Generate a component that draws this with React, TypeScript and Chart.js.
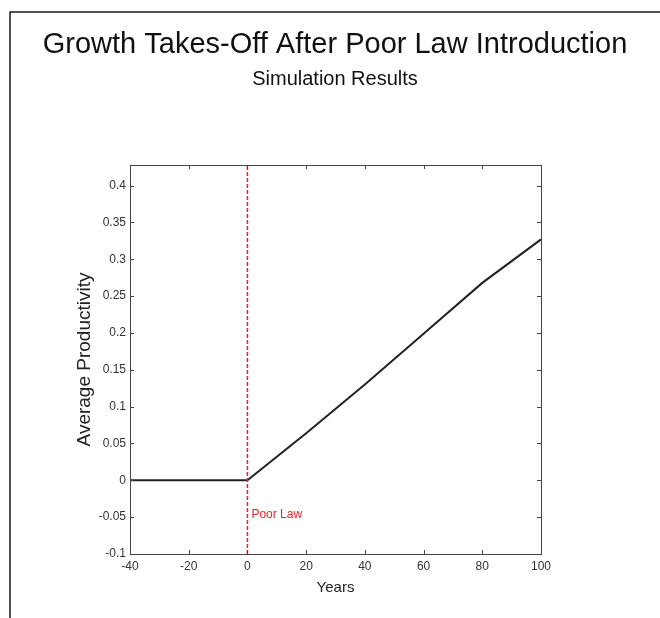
import React, { useEffect, useRef } from "react";
import { Chart, registerables } from "chart.js";

Chart.register(...registerables);

const titleText = "Growth Takes-Off After Poor Law Introduction";
const subtitleText = "Simulation Results";
const xAxisTitle = "Years";
const yAxisTitle = "Average Productivity";

const years = [-40, -20, 0, 20, 40, 60, 80, 100];
const productivity = [0, 0, 0, 0.064, 0.13, 0.199, 0.268, 0.327];

const poorLawYear = 0;
const poorLawLabel = "Poor Law";
const poorLawLabelY = -0.047;

const xTickValues = [-40, -20, 0, 20, 40, 60, 80, 100];
const yTickValues = [-0.1, -0.05, 0, 0.05, 0.1, 0.15, 0.2, 0.25, 0.3, 0.35, 0.4];

const xMin = -40;
const xMax = 100;
const yMin = -0.1;
const yMax = 0.428;

const FONT = "'Liberation Sans', Arial, sans-serif";

const fmt = (v: number) => String(Number(Number(v).toFixed(3)));

const framePlugin = {
  id: "frame",
  afterDraw(chart: any) {
    const ctx = chart.ctx;
    ctx.save();
    ctx.strokeStyle = "#1a1a1a";
    ctx.lineWidth = 1.5;
    ctx.beginPath();
    ctx.moveTo(10, chart.height);
    ctx.lineTo(10, 12);
    ctx.lineTo(chart.width, 12);
    ctx.stroke();
    ctx.restore();
  },
};

const boxPlugin = {
  id: "axesBox",
  afterDatasetsDraw(chart: any) {
    const { ctx, chartArea } = chart;
    const xs = chart.scales.x;
    const ys = chart.scales.y;
    const { left, right, top, bottom } = chartArea;
    ctx.save();
    ctx.setLineDash([]);
    ctx.strokeStyle = "#444";
    ctx.lineWidth = 1;
    ctx.strokeRect(left + 0.5, top + 0.5, right - left, bottom - top);
    const tl = 4;
    ctx.beginPath();
    xTickValues.forEach((v) => {
      const px = Math.round(xs.getPixelForValue(v)) + 0.5;
      ctx.moveTo(px, bottom);
      ctx.lineTo(px, bottom - tl);
      ctx.moveTo(px, top);
      ctx.lineTo(px, top + tl);
    });
    yTickValues.forEach((v) => {
      const py = Math.round(ys.getPixelForValue(v)) + 0.5;
      ctx.moveTo(left, py);
      ctx.lineTo(left + tl, py);
      ctx.moveTo(right, py);
      ctx.lineTo(right - tl, py);
    });
    ctx.stroke();
    ctx.fillStyle = "#e3262f";
    ctx.font = `12px ${FONT}`;
    ctx.textAlign = "left";
    ctx.textBaseline = "middle";
    ctx.fillText(
      poorLawLabel,
      xs.getPixelForValue(poorLawYear) + 4,
      ys.getPixelForValue(poorLawLabelY)
    );
    ctx.restore();
  },
};

export default function App() {
  const canvasRef = useRef<HTMLCanvasElement | null>(null);

  useEffect(() => {
    document.body.style.margin = "0";
    const canvas = canvasRef.current;
    if (!canvas) return;
    const chart = new Chart(canvas, {
      type: "line",
      data: {
        datasets: [
          {
            label: "Average Productivity",
            data: years.map((x, i) => ({ x, y: productivity[i] })),
            borderColor: "#222",
            backgroundColor: "#222",
            borderWidth: 2,
            pointRadius: 0,
            fill: false,
            tension: 0,
            order: 1,
          },
          {
            label: "Poor Law",
            data: [
              { x: poorLawYear, y: yMin },
              { x: poorLawYear, y: yMax },
            ],
            borderColor: "rgb(240, 30, 40)",
            backgroundColor: "rgb(240, 30, 40)",
            borderWidth: 1.5,
            borderDash: [4, 2],
            pointRadius: 0,
            fill: false,
            order: 0,
          },
        ],
      },
      options: {
        responsive: false,
        animation: false,
        devicePixelRatio: 1,
        layout: { padding: { left: 10, right: 0, top: 0, bottom: 0 } },
        plugins: {
          legend: { display: false },
          tooltip: { enabled: false },
          title: {
            display: true,
            text: titleText,
            color: "#111",
            font: { family: FONT, size: 29, weight: "normal" },
            padding: { top: 28, bottom: 0 },
          },
          subtitle: {
            display: true,
            text: subtitleText,
            color: "#111",
            font: { family: FONT, size: 20, weight: "normal" },
            padding: { top: 5, bottom: 73.2 },
          },
        },
        scales: {
          x: {
            type: "linear",
            min: xMin,
            max: xMax,
            grid: { display: false, drawTicks: false },
            border: { display: false },
            afterBuildTicks: (s: any) => {
              s.ticks = xTickValues.map((v) => ({ value: v }));
            },
            afterFit: (s: any) => {
              s.height = 64;
            },
            ticks: {
              color: "#333",
              font: { family: FONT, size: 12 },
              padding: 5,
              maxRotation: 0,
              autoSkip: false,
              callback: (v: any) => fmt(v),
            },
            title: {
              display: true,
              text: xAxisTitle,
              color: "#222",
              font: { family: FONT, size: 15 },
              padding: { top: 0, bottom: 21 },
            },
          },
          y: {
            type: "linear",
            position: "left",
            min: yMin,
            max: yMax,
            grid: { display: false, drawTicks: false },
            border: { display: false },
            afterBuildTicks: (s: any) => {
              s.ticks = yTickValues.map((v) => ({ value: v }));
            },
            afterFit: (s: any) => {
              s.width = 120;
            },
            ticks: {
              color: "#333",
              font: { family: FONT, size: 12 },
              padding: 4,
              autoSkip: false,
              callback: (v: any) => fmt(v),
            },
            title: {
              display: true,
              text: yAxisTitle,
              color: "#222",
              font: { family: FONT, size: 19 },
              padding: { top: 63.6, bottom: 0 },
            },
          },
          yr: {
            type: "linear",
            position: "right",
            display: true,
            grid: { display: false, drawTicks: false },
            border: { display: false },
            ticks: { display: false },
            afterFit: (s: any) => {
              s.width = 119;
            },
          },
        },
      },
      plugins: [framePlugin, boxPlugin],
    });
    return () => chart.destroy();
  }, []);

  return (
    <div style={{ position: "absolute", left: 0, top: 0, width: 660, height: 618 }}>
      <canvas ref={canvasRef} width={660} height={618} />
    </div>
  );
}
